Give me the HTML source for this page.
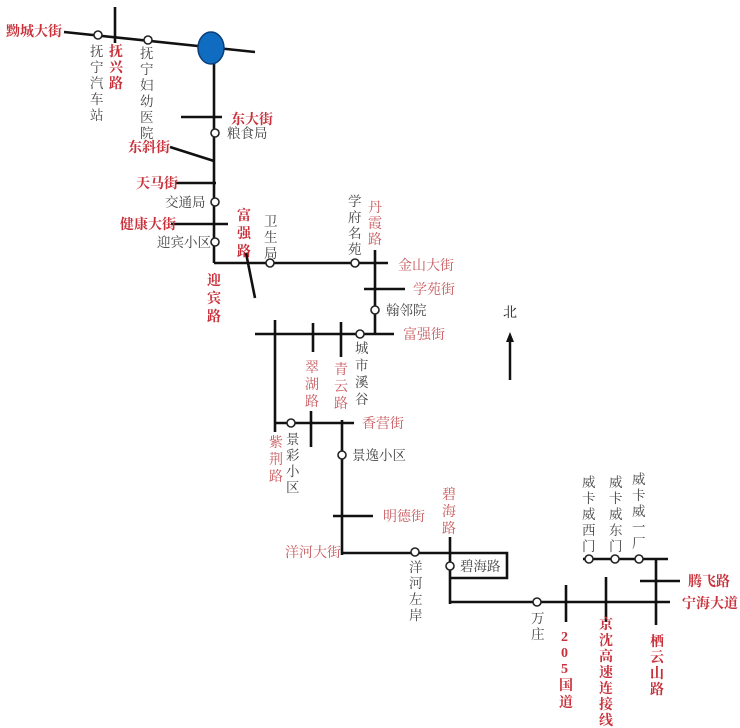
<!DOCTYPE html>
<html><head><meta charset="utf-8"><style>
html,body{margin:0;padding:0;background:#fff;}
svg{display:block;font-family:"Liberation Serif","Noto Serif CJK SC","Noto Sans CJK SC",serif;}
.r{fill:#c8303a;font-weight:bold;font-size:14px}
.p{fill:#c85a5e;font-size:14px}
.g{fill:#444;font-size:13.5px}
line,polyline,rect{stroke:#111;stroke-width:2.6;fill:none}
circle.s{fill:#fff;stroke:#222;stroke-width:1.6}
</style></head><body>
<svg width="740" height="728" viewBox="0 0 740 728" xmlns="http://www.w3.org/2000/svg">
<line x1="64" y1="32" x2="255" y2="52"/>
<line x1="115" y1="7" x2="115" y2="43"/>
<line x1="214" y1="62" x2="214" y2="263"/>
<ellipse cx="211" cy="48" rx="13" ry="16" fill="#0f6cc0" stroke="#0a3f7a" stroke-width="1.5"/>
<circle class="s" cx="98" cy="35" r="4"/>
<circle class="s" cx="148" cy="40" r="4"/>
<text class="r" x="6" y="36">黝城大街</text>
<text class="g" x="90" y="56"><tspan x="90" dy="0">抚</tspan><tspan x="90" dy="16">宁</tspan><tspan x="90" dy="16">汽</tspan><tspan x="90" dy="16">车</tspan><tspan x="90" dy="16">站</tspan></text>
<text class="r" x="109" y="56"><tspan x="109" dy="0">抚</tspan><tspan x="109" dy="16">兴</tspan><tspan x="109" dy="16">路</tspan></text>
<text class="g" x="140" y="58"><tspan x="140" dy="0">抚</tspan><tspan x="140" dy="16">宁</tspan><tspan x="140" dy="16">妇</tspan><tspan x="140" dy="16">幼</tspan><tspan x="140" dy="16">医</tspan><tspan x="140" dy="16">院</tspan></text>
<line x1="181" y1="117" x2="222" y2="117"/>
<text class="r" x="231" y="124">东大街</text>
<circle class="s" cx="215" cy="133" r="4"/>
<text class="g" x="227" y="138">粮食局</text>
<line x1="170" y1="147" x2="214" y2="161"/>
<text class="r" x="128" y="152">东斜街</text>
<line x1="175" y1="183" x2="216" y2="183"/>
<text class="r" x="136" y="188">天马街</text>
<circle class="s" cx="215" cy="202" r="4"/>
<text class="g" x="165" y="207">交通局</text>
<line x1="171" y1="224" x2="228" y2="224"/>
<text class="r" x="120" y="229">健康大街</text>
<circle class="s" cx="215" cy="242" r="4"/>
<text class="g" x="157" y="247">迎宾小区</text>
<text class="r" x="237" y="220"><tspan x="237" dy="0">富</tspan><tspan x="237" dy="18">强</tspan><tspan x="237" dy="18">路</tspan></text>
<text class="r" x="207" y="285"><tspan x="207" dy="0">迎</tspan><tspan x="207" dy="18">宾</tspan><tspan x="207" dy="18">路</tspan></text>
<line x1="246" y1="253" x2="255" y2="298"/>
<line x1="214" y1="263" x2="388" y2="263"/>
<circle class="s" cx="270" cy="263" r="4"/>
<circle class="s" cx="355" cy="263" r="4"/>
<text class="g" x="264" y="226"><tspan x="264" dy="0">卫</tspan><tspan x="264" dy="16">生</tspan><tspan x="264" dy="16">局</tspan></text>
<text class="g" x="348" y="206"><tspan x="348" dy="0">学</tspan><tspan x="348" dy="16">府</tspan><tspan x="348" dy="16">名</tspan><tspan x="348" dy="16">苑</tspan></text>
<text class="p" x="368" y="212"><tspan x="368" dy="0">丹</tspan><tspan x="368" dy="16">霞</tspan><tspan x="368" dy="16">路</tspan></text>
<line x1="375" y1="250" x2="375" y2="334"/>
<text class="p" x="398" y="270">金山大街</text>
<line x1="364" y1="289" x2="405" y2="289"/>
<text class="p" x="413" y="294">学苑街</text>
<circle class="s" cx="375" cy="310" r="4"/>
<text class="g" x="386" y="315">翰邻院</text>
<line x1="255" y1="334" x2="394" y2="334"/>
<circle class="s" cx="360" cy="334" r="4"/>
<text class="p" x="403" y="339">富强街</text>
<text class="g" x="355" y="353"><tspan x="355" dy="0">城</tspan><tspan x="355" dy="17">市</tspan><tspan x="355" dy="17">溪</tspan><tspan x="355" dy="17">谷</tspan></text>
<line x1="275" y1="320" x2="275" y2="432"/>
<line x1="313" y1="323" x2="313" y2="352"/>
<line x1="311" y1="411" x2="311" y2="447"/>
<line x1="341" y1="322" x2="341" y2="357"/>
<text class="p" x="305" y="372"><tspan x="305" dy="0">翠</tspan><tspan x="305" dy="17">湖</tspan><tspan x="305" dy="17">路</tspan></text>
<text class="p" x="334" y="374"><tspan x="334" dy="0">青</tspan><tspan x="334" dy="17">云</tspan><tspan x="334" dy="17">路</tspan></text>
<line x1="274" y1="423" x2="354" y2="423"/>
<circle class="s" cx="291" cy="423" r="4"/>
<text class="p" x="362" y="428">香营街</text>
<line x1="342" y1="420" x2="342" y2="555"/>
<circle class="s" cx="342" cy="455" r="4"/>
<text class="g" x="352" y="460">景逸小区</text>
<text class="p" x="269" y="447"><tspan x="269" dy="0">紫</tspan><tspan x="269" dy="17">荆</tspan><tspan x="269" dy="17">路</tspan></text>
<text class="g" x="286" y="444"><tspan x="286" dy="0">景</tspan><tspan x="286" dy="16">彩</tspan><tspan x="286" dy="16">小</tspan><tspan x="286" dy="16">区</tspan></text>
<line x1="333" y1="516" x2="373" y2="516"/>
<text class="p" x="383" y="521">明德街</text>
<text class="p" x="285" y="557">洋河大街</text>
<text class="p" x="442" y="499"><tspan x="442" dy="0">碧</tspan><tspan x="442" dy="17">海</tspan><tspan x="442" dy="17">路</tspan></text>
<polyline points="342,553 507,553 507,578 450,578"/>
<line x1="450" y1="537" x2="450" y2="604"/>
<circle class="s" cx="415" cy="552" r="4"/>
<circle class="s" cx="450" cy="566" r="4"/>
<text class="g" x="460" y="571">碧海路</text>
<text class="g" x="409" y="572"><tspan x="409" dy="0">洋</tspan><tspan x="409" dy="16">河</tspan><tspan x="409" dy="16">左</tspan><tspan x="409" dy="16">岸</tspan></text>
<line x1="450" y1="602" x2="670" y2="602"/>
<circle class="s" cx="537" cy="602" r="4"/>
<text class="g" x="531" y="623"><tspan x="531" dy="0">万</tspan><tspan x="531" dy="16">庄</tspan></text>
<line x1="566" y1="585" x2="566" y2="622"/>
<line x1="606" y1="577" x2="606" y2="622"/>
<line x1="656" y1="558" x2="656" y2="625"/>
<line x1="583" y1="559" x2="668" y2="559"/>
<circle class="s" cx="589" cy="559" r="4"/>
<circle class="s" cx="615" cy="559" r="4"/>
<circle class="s" cx="639" cy="559" r="4"/>
<text class="g" x="582" y="487"><tspan x="582" dy="0">威</tspan><tspan x="582" dy="16">卡</tspan><tspan x="582" dy="16">威</tspan><tspan x="582" dy="16">西</tspan><tspan x="582" dy="16">门</tspan></text>
<text class="g" x="609" y="487"><tspan x="609" dy="0">威</tspan><tspan x="609" dy="16">卡</tspan><tspan x="609" dy="16">威</tspan><tspan x="609" dy="16">东</tspan><tspan x="609" dy="16">门</tspan></text>
<text class="g" x="632" y="484"><tspan x="632" dy="0">威</tspan><tspan x="632" dy="16">卡</tspan><tspan x="632" dy="16">威</tspan><tspan x="632" dy="16">一</tspan><tspan x="632" dy="16">厂</tspan></text>
<line x1="640" y1="581" x2="680" y2="581"/>
<text class="r" x="688" y="586">腾飞路</text>
<text class="r" x="682" y="608">宁海大道</text>
<text class="r" x="560" y="641"><tspan x="561" dy="0">2</tspan><tspan x="561" dy="16">0</tspan><tspan x="561" dy="16">5</tspan><tspan x="559" dy="17">国</tspan><tspan x="559" dy="17">道</tspan></text>
<text class="r" x="599" y="629"><tspan x="599" dy="0">京</tspan><tspan x="599" dy="16">沈</tspan><tspan x="599" dy="16">高</tspan><tspan x="599" dy="16">速</tspan><tspan x="599" dy="16">连</tspan><tspan x="599" dy="16">接</tspan><tspan x="599" dy="16">线</tspan></text>
<text class="r" x="650" y="646"><tspan x="650" dy="0">栖</tspan><tspan x="650" dy="16">云</tspan><tspan x="650" dy="16">山</tspan><tspan x="650" dy="16">路</tspan></text>
<text x="503" y="317" style="font-size:14px;fill:#222">北</text>
<line x1="510" y1="340" x2="510" y2="380" style="stroke-width:2.5"/>
<polygon points="510,332 506,342 514,342" fill="#111"/>
</svg>
</body></html>
